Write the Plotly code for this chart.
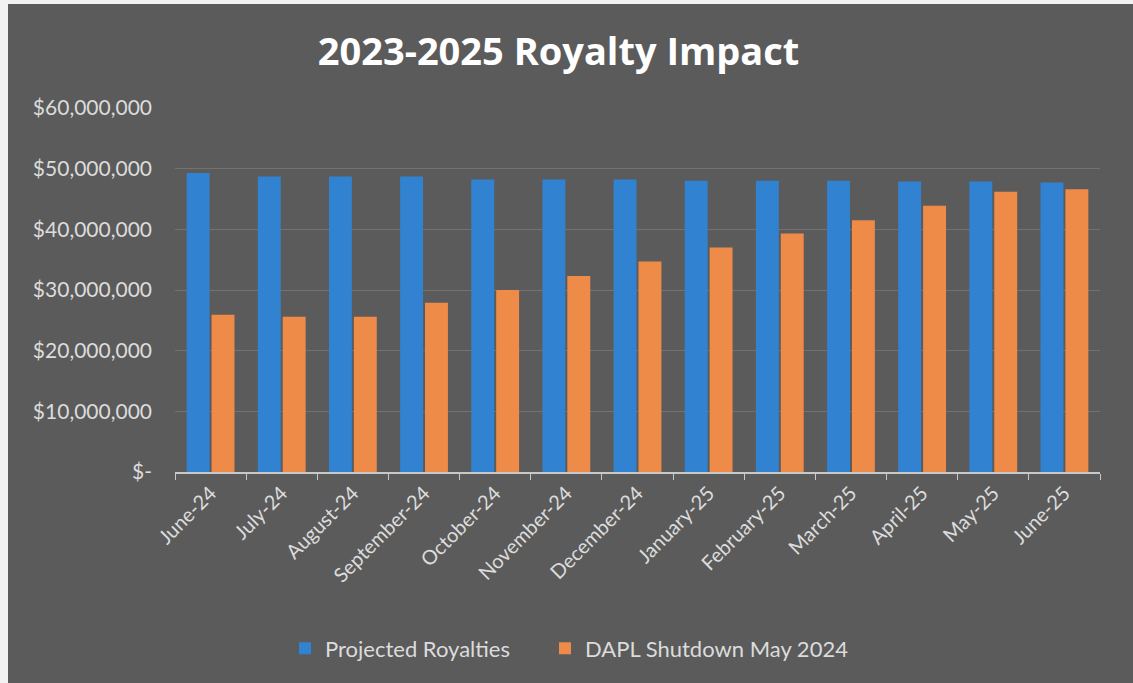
import plotly.graph_objects as go

# Monthly royalty figures (USD)
months = ["June-24", "July-24", "August-24", "September-24", "October-24",
          "November-24", "December-24", "January-25", "February-25",
          "March-25", "April-25", "May-25", "June-25"]
projected = [49.3e6, 48.7e6, 48.7e6, 48.7e6, 48.2e6, 48.2e6, 48.2e6,
             48.0e6, 48.0e6, 48.0e6, 47.9e6, 47.9e6, 47.7e6]
shutdown = [25.9e6, 25.6e6, 25.6e6, 27.9e6, 30.0e6, 32.3e6, 34.7e6,
            37.0e6, 39.3e6, 41.5e6, 43.9e6, 46.2e6, 46.6e6]

y_ticks = [0, 10e6, 20e6, 30e6, 40e6, 50e6, 60e6]
y_tick_text = ["$-", "$10,000,000", "$20,000,000", "$30,000,000",
               "$40,000,000", "$50,000,000", "$60,000,000"]

W, H = 1133, 683
ML, MR, MT, MB = 175, 33, 108, 211
pw, ph = W - ML - MR, H - MT - MB

BG = "#5b5b5b"
TXT = "#dcdcdc"
FONT = "Lato"

fig = go.Figure()
fig.add_trace(go.Bar(x=months, y=projected, name="Projected Royalties",
                     marker=dict(color="#3183d2", line=dict(width=0)),
                     legend="legend"))
fig.add_trace(go.Bar(x=months, y=shutdown, name="DAPL Shutdown May 2024",
                     marker=dict(color="#ee8b48", line=dict(width=0)),
                     legend="legend2"))

# thin light strips along the scanned sheet edge
def px_x(p):
    return (p - ML) / pw

def px_y(p):
    return 1 - (p - MT) / ph

edge = [
    (px_x(0), px_y(0), px_x(8), px_y(H)),
    (px_x(0), px_y(0), px_x(W), px_y(4)),
]
shapes = [dict(type="rect", xref="paper", yref="paper", x0=a, y0=b, x1=c, y1=d,
               fillcolor="#f2f2f2", line=dict(width=0), layer="above")
          for a, b, c, d in edge]

legend_style = dict(orientation="h", xanchor="left", y=-0.485, yanchor="middle",
                    font=dict(size=22, color=TXT), itemwidth=30,
                    bgcolor="rgba(0,0,0,0)")

fig.update_layout(
    width=W, height=H,
    margin=dict(l=ML, r=MR, t=MT, b=MB),
    paper_bgcolor=BG, plot_bgcolor=BG,
    barmode="group", bargap=0.3, bargroupgap=0.08,
    title=dict(text="<b>2023-2025 Royalty Impact</b>", x=0.493, xanchor="center",
               y=1 - 52 / H, yanchor="middle",
               font=dict(family="Open Sans", size=38, color="#ffffff")),
    font=dict(family=FONT, color=TXT),
    legend=dict(x=px_x(285), **legend_style),
    legend2=dict(x=px_x(545), **legend_style),
    shapes=shapes,
    showlegend=True,
)
fig.update_xaxes(
    type="category", tickangle=-45, tickfont=dict(size=20, color=TXT),
    showline=True, linecolor="#c8c8c8", linewidth=1.5,
    ticks="outside", tickson="boundaries", ticklen=6, tickcolor="#c8c8c8",
    showgrid=False,
)
fig.update_yaxes(
    range=[0, 60e6], tickvals=y_ticks, ticktext=y_tick_text,
    tickfont=dict(size=21, color=TXT), ticklabelstandoff=22,
    showgrid=True, gridcolor="#727272", gridwidth=1,
    zeroline=False, showline=False,
)

fig.write_html("out.html")
